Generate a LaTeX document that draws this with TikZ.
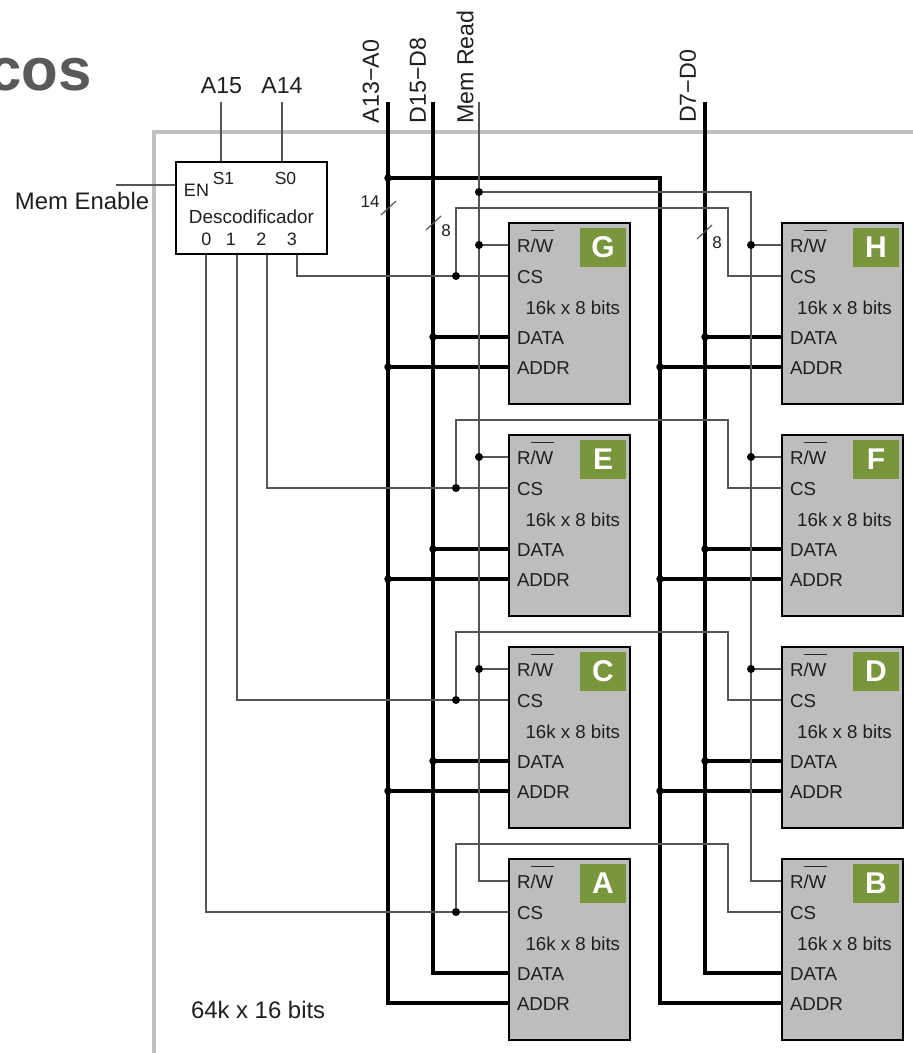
\documentclass[tikz,border=0pt]{standalone}
\usepackage{fontspec}
\setmainfont{Liberation Sans}
\pgfdeclarelayer{bg}
\pgfsetlayers{bg,main}
\definecolor{framegray}{HTML}{C0C0C0}
\definecolor{chipgray}{HTML}{BDBDBD}
\definecolor{tagcolor}{HTML}{7A963C}
\definecolor{wirecolor}{HTML}{555555}
\definecolor{titlecolor}{HTML}{58595B}
\newcommand{\fs}[1]{\fontsize{#1}{#1}\selectfont}
\tikzset{
  x=1pt,y=-1pt,
  txt/.style={inner sep=0pt,outer sep=0pt,text=black!88},
  chipbox/.style={draw=black,line width=2.6pt,fill=chipgray,anchor=north west,minimum width=121pt,minimum height=181pt,inner sep=0pt,outer sep=0pt},
  chiplabel/.style={txt,anchor=west,font=\fs{18.7}},
  tagbox/.style={fill=tagcolor,text=white,font=\bfseries\fs{30},minimum width=46pt,minimum height=39pt,inner sep=0pt},
  busline/.style={draw=black,line width=4.8pt,miter limit=10},
  thinwire/.style={draw=wirecolor,line width=1.15pt},
  busdot/.style={circle,fill=black,minimum size=7.5pt,inner sep=0pt,outer sep=0pt},
  wiredot/.style={circle,fill=black,minimum size=8pt,inner sep=0pt,outer sep=0pt},
  framebox/.style={draw=framegray,line width=4.5pt},
  decbox/.style={draw=black,line width=2.2pt,fill=white,anchor=north west,minimum width=151pt,minimum height=92pt,inner sep=0pt,outer sep=0pt},
  siglabel/.style={txt,font=\fs{23.2}},
  declabel/.style={txt,font=\fs{18}},
  widthlabel/.style={txt,font=\fs{17}},
}
\newcommand{\memchip}[4]{% name, x, y, offset of the size label
  \node[chipbox] (#1) at (#2,#3) {};
  \coordinate (#1-rw) at (#2,#3+22);
  \coordinate (#1-cs) at (#2,#3+53);
  \coordinate (#1-data) at (#2,#3+114);
  \coordinate (#1-addr) at (#2,#3+144);
  \node[chiplabel] (#1-lrw) at (#2+8,#3+22.5) {R/W};
  \draw[black!85,line width=1pt] (#2+22,#3+7) coordinate (#1-ol) -- (#2+45,#3+7) coordinate (#1-or);
  \node[chiplabel] (#1-lcs) at (#2+8,#3+54) {CS};
  \node[chiplabel] (#1-lsize) at (#2+#4,#3+85) {16k x 8 bits};
  \node[chiplabel] (#1-ldata) at (#2+8,#3+115) {DATA};
  \node[chiplabel] (#1-laddr) at (#2+8,#3+145) {ADDR};
  \node[tagbox] (#1-tag) at (#2+94,#3+24) {#1};
}
\begin{document}
\begin{tikzpicture}
\useasboundingbox (0,0) rectangle (913,1053);

% title fragment
\node[txt,anchor=base east,text=titlecolor,font=\bfseries\fs{60}] (title) at (92,90) {cos};

% chips
\memchip{G}{509}{223}{16.5}
\memchip{H}{782}{223}{15.2}
\memchip{E}{509}{435}{16.5}
\memchip{F}{782}{435}{15.2}
\memchip{C}{509}{647}{16.5}
\memchip{D}{782}{647}{15.2}
\memchip{A}{509}{859}{16.5}
\memchip{B}{782}{859}{15.2}

% decoder
\node[decbox] (dec) at (176,162) {};
\node[declabel] (lEN) at (196.5,190) {EN};
\node[declabel,font=\fs{17.5}] (lS1) at (223.5,178) {S1};
\node[declabel,font=\fs{17.5}] (lS0) at (285.5,178) {S0};
\node[declabel,font=\fs{18.9}] (lDec) at (251.5,217) {Descodificador};
\node[declabel] (l0) at (206.5,239) {0};
\node[declabel] (l1) at (231,239) {1};
\node[declabel] (l2) at (261.5,239) {2};
\node[declabel] (l3) at (292,239) {3};
\coordinate (o0) at (206,254);
\coordinate (o1) at (237,254);
\coordinate (o2) at (267,254);
\coordinate (o3) at (297,254);
\coordinate (iS1) at (221,162);
\coordinate (iS0) at (282,162);
\coordinate (iEN) at (176,185);

% external labels
\node[siglabel] (lA15) at (221.5,86) {A15};
\node[siglabel] (lA14) at (282,86) {A14};
\node[siglabel,font=\fs{23.9},anchor=west] (lMemEn) at (15,201) {Mem Enable};
\node[siglabel,font=\fs{23.9},anchor=west] (lTotal) at (191,1010) {64k x 16 bits};
\node[siglabel,rotate=90] (lAbus) at (371,81.5) {A13−A0};
\node[siglabel,rotate=90] (lDhi) at (418,80.5) {D15−D8};
\node[siglabel,rotate=90] (lMR) at (465,67) {Mem Read};
\node[siglabel,rotate=90] (lDlo) at (688,86.5) {D7−D0};
\node[widthlabel] (w14) at (370,202) {14};
\node[widthlabel] (w8a) at (446,231) {8};
\node[widthlabel] (w8b) at (717,243) {8};

% connector ends and bends
\coordinate (atop) at (388,102);
\coordinate (dhitop) at (433,102);
\coordinate (dlotop) at (705,102);
\coordinate (mrtop) at (479,102);
\coordinate (a15top) at (221,102);
\coordinate (a14top) at (282,102);
\coordinate (enfree) at (116,185);
\coordinate (bendA) at (660,178);
\coordinate (mrright) at (751,192);
\coordinate (csx) at (456,0);
\coordinate (rG) at (728,208);
\coordinate (rE) at (728,420);
\coordinate (rC) at (728,632);
\coordinate (rA) at (728,844);
\coordinate (t14a) at (381,215);\coordinate (t14b) at (396,201);
\coordinate (t8aa) at (426,230);\coordinate (t8ab) at (441,216);
\coordinate (t8ba) at (697,239);\coordinate (t8bb) at (712,225);
\coordinate (fA) at (913,132);\coordinate (fB) at (154,132);\coordinate (fC) at (154,1053);

% junction dots
\node[busdot] (jtop) at (atop |- bendA) {};
\foreach \l/\r in {G/H,E/F,C/D}{
  \node[busdot] (ja\l) at (atop |- \l-addr) {};
  \node[busdot] (jd\l) at (dhitop |- \l-data) {};
  \node[busdot] (ja\r) at (bendA |- \r-addr) {};
  \node[busdot] (jd\r) at (dlotop |- \r-data) {};
  \node[wiredot] (jm\l) at (mrtop |- \l-rw) {};
  \node[wiredot] (jm\r) at (mrright |- \r-rw) {};
}
\foreach \l in {G,E,C,A}{
  \node[wiredot] (jc\l) at (csx |- \l-cs) {};
}
\node[wiredot] (jmr) at (mrtop |- mrright) {};

\begin{pgfonlayer}{bg}
  \draw[framebox] (fA) -- (fB) -- (fC);
  % buses
  \draw[busline] (atop) |- (A-addr);
  \draw[busline] (dhitop) |- (A-data);
  \draw[busline] (dlotop) |- (B-data);
  \draw[busline] (jtop.center) -- (bendA) |- (B-addr);
  \foreach \l/\r in {G/H,E/F,C/D}{
    \draw[busline] (ja\l.center) -- (\l-addr);
    \draw[busline] (jd\l.center) -- (\l-data);
    \draw[busline] (ja\r.center) -- (\r-addr);
    \draw[busline] (jd\r.center) -- (\r-data);
  }
  % thin wires
  \draw[thinwire] (a15top) -- (iS1);
  \draw[thinwire] (a14top) -- (iS0);
  \draw[thinwire] (enfree) -- (iEN);
  \draw[thinwire] (mrtop) |- (A-rw);
  \draw[thinwire] (jmr.center) -- (mrright) |- (B-rw);
  \foreach \l/\r in {G/H,E/F,C/D}{
    \draw[thinwire] (jm\l.center) -- (\l-rw);
    \draw[thinwire] (jm\r.center) -- (\r-rw);
  }
  \draw[thinwire] (o3) |- (G-cs);
  \draw[thinwire] (o2) |- (E-cs);
  \draw[thinwire] (o1) |- (C-cs);
  \draw[thinwire] (o0) |- (A-cs);
  \draw[thinwire] (jcG.center) |- (rG) |- (H-cs);
  \draw[thinwire] (jcE.center) |- (rE) |- (F-cs);
  \draw[thinwire] (jcC.center) |- (rC) |- (D-cs);
  \draw[thinwire] (jcA.center) |- (rA) |- (B-cs);
  % width ticks
  \draw[thinwire] (t14a) -- (t14b);
  \draw[thinwire] (t8aa) -- (t8ab);
  \draw[thinwire] (t8ba) -- (t8bb);
\end{pgfonlayer}
\end{tikzpicture}
\end{document}
